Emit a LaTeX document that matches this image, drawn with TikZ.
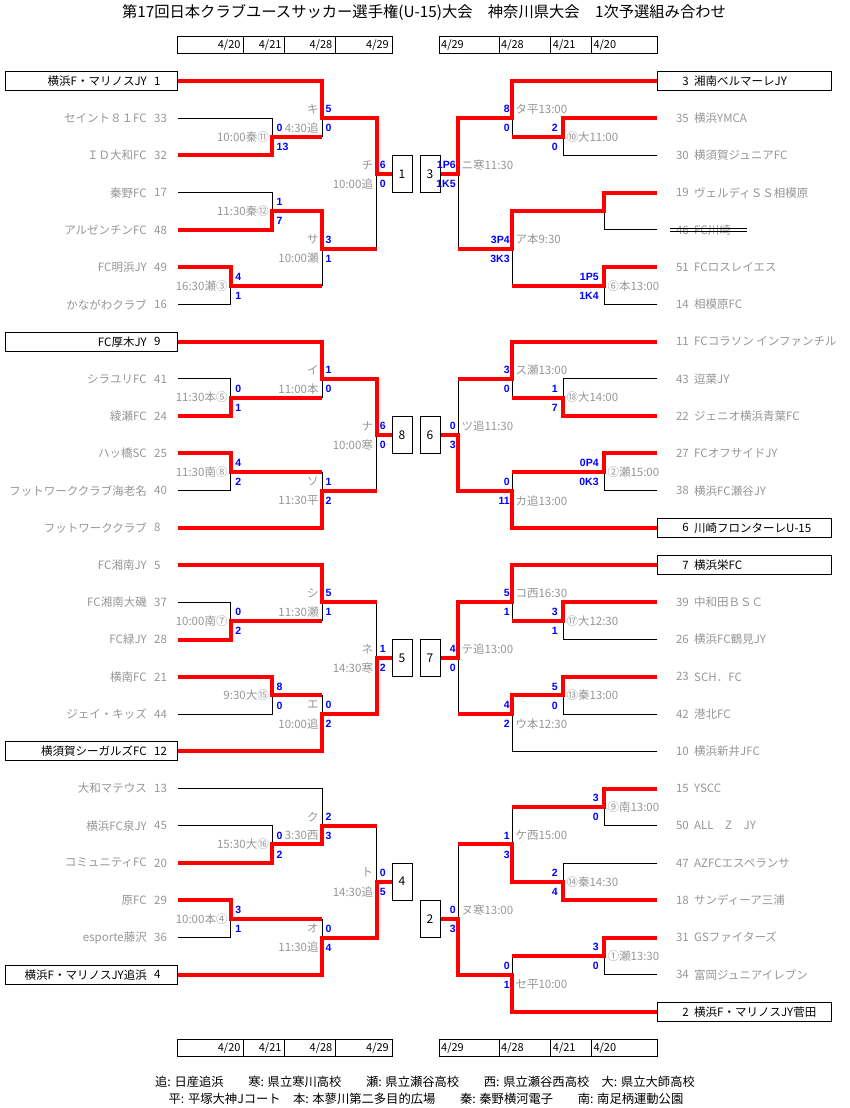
\documentclass[tikz,border=0pt]{standalone}
\usepackage{fontspec}
\setmainfont{Noto Sans CJK JP}
\newfontfamily\scorefont{Liberation Sans}
\usepackage{xcolor}
\usepackage{tikz}
\definecolor{teamgray}{RGB}{150,150,150}
\definecolor{bracketred}{RGB}{255,0,0}
\definecolor{scoreblue}{RGB}{0,0,255}
\tikzstyle{team} = [inner sep=0pt, text=teamgray, font=\fontsize{11.5}{13}\selectfont]
\tikzstyle{seedtext} = [team, text=black]
\tikzstyle{seedbox} = [rectangle, draw, line width=1pt, minimum height=19pt, inner sep=0pt]
\tikzstyle{centerbox} = [rectangle, draw, line width=1pt, minimum width=20pt, minimum height=37.2pt, inner sep=0pt, font=\fontsize{12}{13}\selectfont]
\tikzstyle{score} = [inner sep=0pt, text=scoreblue, font=\scorefont\bfseries\fontsize{10.5}{11}\selectfont]
\tikzstyle{info} = [inner sep=0pt, text=teamgray, font=\fontsize{11.5}{13}\selectfont]
\tikzstyle{datetext} = [inner sep=0pt, font=\fontsize{11}{12}\selectfont]
\tikzstyle{titletext} = [inner sep=0pt, font=\fontsize{15.3}{17}\selectfont]
\tikzstyle{legendtext} = [inner sep=0pt, font=\fontsize{12.3}{14}\selectfont]
\tikzstyle{win} = [draw=bracketred, line width=4pt]
\tikzstyle{lose} = [draw, line width=1pt]

% scores and labels of a match, left half
\newcommand{\lfirst}[4]{%
  \node[score, anchor=west] (#1a) at ([xshift=4.5pt, yshift=9pt]#1) {#2};
  \node[score, anchor=west] (#1b) at ([xshift=4.5pt, yshift=-10pt]#1) {#3};
  \node[info, anchor=east] (#1c) at ([xshift=-3pt]#1) {#4};}
\newcommand{\lround}[5]{%
  \node[score, anchor=west] (#1a) at ([xshift=3pt, yshift=9pt]#1) {#2};
  \node[score, anchor=west] (#1b) at ([xshift=3pt, yshift=-10pt]#1) {#3};
  \node[info, anchor=east] (#1c) at ([xshift=-3.5pt, yshift=9pt]#1) {#4};
  \node[info, anchor=east] (#1d) at ([xshift=-3.5pt, yshift=-10pt]#1) {#5};}
% right half
\newcommand{\rfirst}[4]{%
  \node[score, anchor=east] (#1a) at ([xshift=-5.5pt, yshift=9pt]#1) {#2};
  \node[score, anchor=east] (#1b) at ([xshift=-5.5pt, yshift=-10pt]#1) {#3};
  \node[info, anchor=west] (#1c) at ([xshift=3pt]#1) {#4};}
\newcommand{\rround}[5]{%
  \node[score, anchor=east] (#1a) at ([xshift=-2.5pt, yshift=9pt]#1) {#2};
  \node[score, anchor=east] (#1b) at ([xshift=-2.5pt, yshift=-10pt]#1) {#3};
  \node[info, anchor=west] (#1c) at ([xshift=3pt, yshift=#5]#1) {#4};}

\begin{document}
\begin{tikzpicture}[x=1pt, y=-1pt, declare function={ry(\h)=81+18.62*\h;}]
\useasboundingbox (0,0) rectangle (850,1108);

\node[titletext] (title) at (424,12) {第17回日本クラブユースサッカー選手権(U-15)大会　神奈川県大会　1次予選組み合わせ};

% date rows
\foreach \y/\s in {37/t, 1039.5/b}{
  \foreach \a/\b/\d in {177.5/243.7/20, 243.7/284.7/21, 284.7/335.5/28, 335.5/392/29}{
    \draw[line width=1pt] (\a,\y) rectangle (\b,\y+17);
    \node[datetext, anchor=east] (dl\s\d) at (\b-3,\y+8.5) {4/\d};
  }
  \foreach \a/\b/\d in {439/499/29, 499/550.7/28, 550.7/591.3/21, 591.3/657.5/20}{
    \draw[line width=1pt] (\a,\y) rectangle (\b,\y+17);
    \node[datetext, anchor=west] (dr\s\d) at (\a+2,\y+8.5) {4/\d};
  }
}

% left teams
\foreach \k/\n/\tm in {33/2/セイント８１FC, 32/4/ＩＤ大和FC, 17/6/秦野FC, 48/8/アルゼンチンFC,
    49/10/FC明浜JY, 16/12/かながわクラブ, 41/16/シラユリFC, 24/18/綾瀬FC, 25/20/ハッ橋SC,
    40/22/フットワーククラブ海老名, 8/24/フットワーククラブ, 5/26/FC湘南JY, 37/28/FC湘南大磯,
    28/30/FC緑JY, 21/32/横南FC, 44/34/ジェイ・キッズ, 13/38/大和マテウス, 45/40/横浜FC泉JY,
    20/42/コミュニティFC, 29/44/原FC, 36/46/esporte藤沢}{
  \node[team, anchor=east] (n\k) at (147,{ry(\n)}) {\tm};
  \node[team, anchor=west] (k\k) at (154,{ry(\n)}) {\k};
  \coordinate (t\k) at (178,{ry(\n)});
}
\foreach \k/\n/\tm in {1/0/横浜F・マリノスJY, 9/14/FC厚木JY, 12/36/横須賀シーガルズFC, 4/48/横浜F・マリノスJY追浜}{
  \node[seedbox, minimum width=172pt] (b\k) at (91,{ry(\n)}) {};
  \node[seedtext, anchor=east] (n\k) at (147,{ry(\n)}) {\tm};
  \node[seedtext, anchor=west] (k\k) at (154,{ry(\n)}) {\k};
  \coordinate (t\k) at (178,{ry(\n)});
}

% right teams
\foreach \k/\n/\tm in {35/2/横浜YMCA, 30/4/横須賀ジュニアFC, 19/6/ヴェルディＳＳ相模原, 46/8/FC川崎,
    51/10/FCロスレイエス, 14/12/相模原FC, 11/14/FCコラソン インファンチル, 43/16/逗葉JY,
    22/18/ジェニオ横浜青葉FC, 27/20/FCオフサイドJY, 38/22/横浜FC瀬谷JY, 39/28/中和田ＢＳＣ,
    26/30/横浜FC鶴見JY, 23/32/SCH．FC, 42/34/港北FC, 10/36/横浜新井JFC, 15/38/YSCC,
    50/40/ALL　Z　JY, 47/42/AZFCエスペランサ, 18/44/サンディーア三浦, 31/46/GSファイターズ,
    34/48/富岡ジュニアイレブン}{
  \node[team, anchor=east] (k\k) at (689,{ry(\n)}) {\k};
  \node[team, anchor=west] (n\k) at (694,{ry(\n)}) {\tm};
  \coordinate (t\k) at (657.3,{ry(\n)});
}
\foreach \k/\n/\tm in {3/0/湘南ベルマーレJY, 6/24/川崎フロンターレU-15, 7/26/横浜栄FC, 2/50/横浜F・マリノスJY菅田}{
  \node[seedbox, minimum width=174.4pt] (b\k) at (744.5,{ry(\n)}) {};
  \node[seedtext, anchor=east] (k\k) at (689,{ry(\n)}) {\k};
  \node[seedtext, anchor=west] (n\k) at (694,{ry(\n)}) {\tm};
  \coordinate (t\k) at (657.3,{ry(\n)});
}
% withdrawn team
\draw[line width=0.8pt] (670,{ry(8)-1.5}) -- (747,{ry(8)-1.5});
\draw[line width=0.8pt] (670,{ry(8)+1.5}) -- (747,{ry(8)+1.5});

% match points, left
\coordinate (m11) at (272,{ry(3)});
\coordinate (mki) at (322.3,{ry(2)});
\coordinate (m12) at (272,{ry(7)});
\coordinate (m3) at (230.7,{ry(11)});
\coordinate (msa) at (322.3,{ry(9)});
\coordinate (mchi) at (376.7,{ry(5)});
\coordinate (m5) at (230.7,{ry(17)});
\coordinate (mi) at (322.3,{ry(16)});
\coordinate (m8) at (230.7,{ry(21)});
\coordinate (mso) at (322.3,{ry(22)});
\coordinate (mna) at (376.7,{ry(19)});
\coordinate (m7) at (230.7,{ry(29)});
\coordinate (mshi) at (322.3,{ry(28)});
\coordinate (m15) at (272,{ry(33)});
\coordinate (me) at (322.3,{ry(34)});
\coordinate (mne) at (376.7,{ry(31)});
\coordinate (m16) at (272,{ry(41)});
\coordinate (mku) at (322.3,{ry(40)});
\coordinate (m4) at (230.7,{ry(45)});
\coordinate (mo) at (322.3,{ry(46)});
\coordinate (mto) at (376.7,{ry(43)});
% match points, right
\coordinate (m10) at (563.3,{ry(3)});
\coordinate (mta) at (512.3,{ry(2)});
\coordinate (mwo) at (604.3,{ry(7)});
\coordinate (m6) at (604.3,{ry(11)});
\coordinate (ma) at (512.3,{ry(9)});
\coordinate (mni) at (458.3,{ry(5)});
\coordinate (m18) at (563.3,{ry(17)});
\coordinate (msu) at (512.3,{ry(16)});
\coordinate (m2) at (604.3,{ry(21)});
\coordinate (mka) at (512.3,{ry(22)});
\coordinate (mtsu) at (458.3,{ry(19)});
\coordinate (m17) at (563.3,{ry(29)});
\coordinate (mko) at (512.3,{ry(28)});
\coordinate (m13) at (563.3,{ry(33)});
\coordinate (mu) at (512.3,{ry(34)});
\coordinate (mte) at (458.3,{ry(31)});
\coordinate (m9) at (604.3,{ry(39)});
\coordinate (m14) at (563.3,{ry(43)});
\coordinate (mke) at (512.3,{ry(41)});
\coordinate (m1) at (604.3,{ry(47)});
\coordinate (mse) at (512.3,{ry(48)});
\coordinate (mnu) at (458.3,{ry(45)});

% centre boxes
\node[centerbox] (c1) at (402,{ry(5)}) {1};
\node[centerbox] (c3) at (430,{ry(5)}) {3};
\node[centerbox] (c8) at (402,{ry(19)}) {8};
\node[centerbox] (c6) at (430,{ry(19)}) {6};
\node[centerbox] (c5) at (402,{ry(31)}) {5};
\node[centerbox] (c7) at (430,{ry(31)}) {7};
\node[centerbox] (c4) at (402,{ry(43)}) {4};
\node[centerbox] (c2) at (430,{ry(45)}) {2};

% losers
\path[lose] (t33) -| (m11);
\path[lose] (m11 -| mki) -- (mki);
\path[lose] (t17) -| (m12);
\path[lose] (t16) -| (m3);
\path[lose] (m3 -| msa) -- (msa);
\path[lose] (msa -| mchi) -- (mchi);
\path[lose] (t41) -| (m5);
\path[lose] (m5 -| mi) -- (mi);
\path[lose] (t40) -| (m8);
\path[lose] (m8 -| mso) -- (mso);
\path[lose] (mso -| mna) -- (mna);
\path[lose] (t37) -| (m7);
\path[lose] (m7 -| mshi) -- (mshi);
\path[lose] (mshi -| mne) -- (mne);
\path[lose] (t44) -| (m15);
\path[lose] (m15 -| me) -- (me);
\path[lose] (t45) -| (m16);
\path[lose] (t13) -| (mku);
\path[lose] (mku -| mto) -- (mto);
\path[lose] (t36) -| (m4);
\path[lose] (m4 -| mo) -- (mo);
\path[lose] (t30) -| (m10);
\path[lose] (m10 -| mta) -- (mta);
\path[lose] (t46) -| (mwo);
\path[lose] (t14) -| (m6);
\path[lose] (m6 -| ma) -- (ma);
\path[lose] (ma -| mni) -- (mni);
\path[lose] (t43) -| (m18);
\path[lose] (m18 -| msu) -- (msu);
\path[lose] (t38) -| (m2);
\path[lose] (m2 -| mka) -- (mka);
\path[lose] (msu -| mtsu) -- (mtsu);
\path[lose] (t26) -| (m17);
\path[lose] (m17 -| mko) -- (mko);
\path[lose] (t42) -| (m13);
\path[lose] (t10) -| (mu);
\path[lose] (mu -| mte) -- (mte);
\path[lose] (t50) -| (m9);
\path[lose] (t47) -| (m14);
\path[lose] (m9 -| mke) -- (mke);
\path[lose] (t34) -| (m1);
\path[lose] (m1 -| mse) -- (mse);
\path[lose] (mke -| mnu) -- (mnu);

% winners
\path[win] (t32) -| (m11) -- (m11 -| mki);
\path[win] (t1) -| (mki) -| (mchi) -- (c1.west);
\path[win] (t48) -| (m12) -| (msa) -- (msa -| mchi);
\path[win] (t49) -| (m3) -- (m3 -| msa);
\path[win] (t24) -| (m5) -- (m5 -| mi);
\path[win] (t9) -| (mi) -| (mna) -- (c8.west);
\path[win] (t25) -| (m8) -- (m8 -| mso);
\path[win] (t8) -| (mso) -- (mso -| mna);
\path[win] (t28) -| (m7) -- (m7 -| mshi);
\path[win] (t5) -| (mshi) -- (mshi -| mne);
\path[win] (t21) -| (m15) -- (m15 -| me);
\path[win] (t12) -| (me) -| (mne) -- (c5.west);
\path[win] (t20) -| (m16) -| (mku) -- (mku -| mto);
\path[win] (t29) -| (m4) -- (m4 -| mo);
\path[win] (t4) -| (mo) -| (mto) -- (c4.west);
\path[win] (t35) -| (m10) -- (m10 -| mta);
\path[win] (t3) -| (mta) -| (mni) -- (c3.east);
\path[win] (t19) -| (mwo) -| (ma) -- (ma -| mni);
\path[win] (t51) -| (m6) -- (m6 -| ma);
\path[win] (t22) -| (m18) -- (m18 -| msu);
\path[win] (t11) -| (msu) -- (msu -| mtsu);
\path[win] (t27) -| (m2) -- (m2 -| mka);
\path[win] (t6) -| (mka) -| (mtsu) -- (c6.east);
\path[win] (t39) -| (m17) -- (m17 -| mko);
\path[win] (t7) -| (mko) -| (mte) -- (c7.east);
\path[win] (t23) -| (m13) -| (mu) -- (mu -| mte);
\path[win] (t15) -| (m9) -- (m9 -| mke);
\path[win] (t18) -| (m14) -| (mke) -- (mke -| mnu);
\path[win] (t31) -| (m1) -- (m1 -| mse);
\path[win] (t2) -| (mse) -| (mnu) -- (c2.east);

% results, left
\lfirst{m11}{0}{13}{10:00秦⑪}
\lround{mki}{5}{0}{キ}{4:30追}
\lfirst{m12}{1}{7}{11:30秦⑫}
\lfirst{m3}{4}{1}{16:30瀬③}
\lround{msa}{3}{1}{サ}{10:00瀬}
\lround{mchi}{6}{0}{チ}{10:00追}
\lfirst{m5}{0}{1}{11:30本⑤}
\lround{mi}{1}{0}{イ}{11:00本}
\lfirst{m8}{4}{2}{11:30南⑧}
\lround{mso}{1}{2}{ソ}{11:30平}
\lround{mna}{6}{0}{ナ}{10:00寒}
\lfirst{m7}{0}{2}{10:00南⑦}
\lround{mshi}{5}{1}{シ}{11:30瀬}
\lfirst{m15}{8}{0}{9:30大⑮}
\lround{me}{0}{2}{エ}{10:00追}
\lround{mne}{1}{2}{ネ}{14:30寒}
\lfirst{m16}{0}{2}{15:30大⑯}
\lround{mku}{2}{3}{ク}{3:30西}
\lfirst{m4}{3}{1}{10:00本④}
\lround{mo}{0}{4}{オ}{11:30追}
\lround{mto}{0}{5}{ト}{14:30追}
% results, right
\rfirst{m10}{2}{0}{⑩大11:00}
\rround{mta}{8}{0}{タ平13:00}{9pt}
\rfirst{m6}{1P5}{1K4}{⑥本13:00}
\rround{ma}{3P4}{3K3}{ア本9:30}{9pt}
\rround{mni}{1P6}{1K5}{ニ寒11:30}{9pt}
\rfirst{m18}{1}{7}{⑱大14:00}
\rround{msu}{3}{0}{ス瀬13:00}{9pt}
\rfirst{m2}{0P4}{0K3}{②瀬15:00}
\rround{mka}{0}{11}{カ追13:00}{-10pt}
\rround{mtsu}{0}{3}{ツ追11:30}{9pt}
\rfirst{m17}{3}{1}{⑰大12:30}
\rround{mko}{5}{1}{コ西16:30}{9pt}
\rfirst{m13}{5}{0}{⑬秦13:00}
\rround{mu}{4}{2}{ウ本12:30}{-10pt}
\rround{mte}{4}{0}{テ追13:00}{9pt}
\rfirst{m9}{3}{0}{⑨南13:00}
\rfirst{m14}{2}{4}{⑭秦14:30}
\rround{mke}{1}{3}{ケ西15:00}{9pt}
\rfirst{m1}{3}{0}{①瀬13:30}
\rround{mse}{0}{1}{セ平10:00}{-10pt}
\rround{mnu}{0}{3}{ヌ寒13:00}{9pt}

% venues
\node[legendtext] (lg1) at (425,1082) {追: 日産追浜　　寒: 県立寒川高校　　瀬: 県立瀬谷高校　　西: 県立瀬谷西高校　大: 県立大師高校};
\node[legendtext] (lg2) at (426,1099) {平: 平塚大神Jコート　本: 本蓼川第二多目的広場　　秦: 秦野横河電子　　南: 南足柄運動公園};
\end{tikzpicture}
\end{document}
